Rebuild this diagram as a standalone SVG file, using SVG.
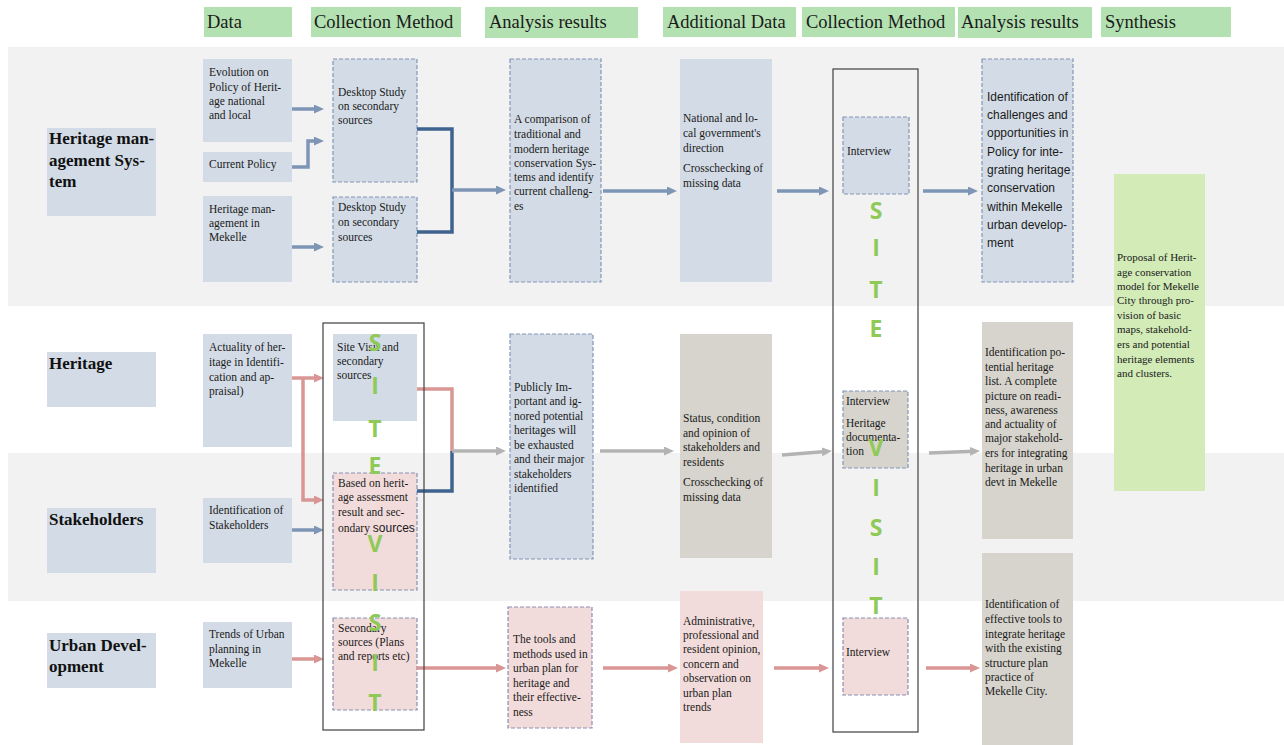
<svg xmlns="http://www.w3.org/2000/svg" width="1284" height="745" viewBox="0 0 1284 745">
<style>
.band{fill:#f2f2f2}
.hdr{fill:#b3e1b1}
.hdrt{font-family:"Liberation Serif",serif;font-size:18.5px;fill:#1a1a1a}
.lb{fill:#d3dce6}
.lbt{font-family:"Liberation Serif",serif;font-size:17px;font-weight:bold;fill:#111}
.bx{fill:#d3dce6}
.pk{fill:#f2dcdb}
.bg{fill:#d6d4cc}
.gr{fill:#d2ebb7}
.dsh{stroke:#8396b7;stroke-width:1.2;stroke-dasharray:4 2}
.dshp{stroke:#8a8db3;stroke-width:1.2;stroke-dasharray:4 2}
.t{font-family:"Liberation Serif",serif;font-size:11.5px;fill:#1a1a1a}
.s{font-family:"Liberation Sans",Arial,sans-serif;font-size:12px;fill:#1a1a1a}
.sv{font-family:"Open Sans","Liberation Sans",sans-serif;font-size:23px;font-weight:bold;fill:#8fca58;text-anchor:middle}
.frame{fill:none;stroke:#404040;stroke-width:1.2}
.ab{stroke:#7e95b6;stroke-width:3.5;fill:none}
.ad{stroke:#3f638f;stroke-width:3.5;fill:none}
.ap{stroke:#d99694;stroke-width:3.5;fill:none}
.ag{stroke:#b3b3b3;stroke-width:3.5;fill:none}
</style>
<defs>
<marker id="mb" markerUnits="userSpaceOnUse" markerWidth="11" markerHeight="10" refX="4" refY="4.5" orient="auto"><path d="M0,0 L10,4.5 L0,9 z" fill="#7e95b6"/></marker>
<marker id="mp" markerUnits="userSpaceOnUse" markerWidth="11" markerHeight="10" refX="4" refY="4.5" orient="auto"><path d="M0,0 L10,4.5 L0,9 z" fill="#d99694"/></marker>
<marker id="mg" markerUnits="userSpaceOnUse" markerWidth="11" markerHeight="10" refX="4" refY="4.5" orient="auto"><path d="M0,0 L10,4.5 L0,9 z" fill="#b3b3b3"/></marker>
</defs>
<rect width="1284" height="745" fill="#ffffff"/>
<rect class="band" x="8" y="47" width="1276" height="259"/>
<rect class="band" x="8" y="453" width="1276" height="148"/>

<g id="headers">
<rect class="hdr" x="204" y="7" width="88" height="30"/><text class="hdrt" x="207" y="28">Data</text>
<rect class="hdr" x="311" y="7" width="150" height="30"/><text class="hdrt" x="314" y="28">Collection Method</text>
<rect class="hdr" x="485" y="7" width="153" height="31"/><text class="hdrt" x="489" y="28">Analysis results</text>
<rect class="hdr" x="663" y="7" width="133" height="30"/><text class="hdrt" x="667" y="28">Additional Data</text>
<rect class="hdr" x="802" y="7" width="153" height="30"/><text class="hdrt" x="806" y="28">Collection Method</text>
<rect class="hdr" x="958" y="7" width="134" height="31"/><text class="hdrt" x="961" y="28">Analysis results</text>
<rect class="hdr" x="1101" y="7" width="130" height="30"/><text class="hdrt" x="1105" y="28">Synthesis</text>
</g>

<g id="label-hms"><rect class="lb" x="47" y="128" width="109" height="88"/>
<text class="lbt"><tspan x="49" y="144">Heritage man-</tspan><tspan x="49" y="166">agement Sys-</tspan><tspan x="49" y="187">tem</tspan></text></g>
<g id="label-heritage"><rect class="lb" x="47" y="352" width="109" height="55"/><text class="lbt" x="49" y="369">Heritage</text></g>
<g id="label-stakeholders"><rect class="lb" x="47" y="508" width="109" height="65"/><text class="lbt" x="49" y="525">Stakeholders</text></g>
<g id="label-urban"><rect class="lb" x="47" y="633" width="109" height="55"/>
<text class="lbt"><tspan x="49" y="651">Urban Devel-</tspan><tspan x="49" y="672">opment</tspan></text></g>

<g id="data-evolution"><rect class="bx" x="203" y="59" width="89" height="83"/>
<text class="t"><tspan x="209" y="76">Evolution on</tspan><tspan x="209" y="91">Policy of Herit-</tspan><tspan x="209" y="105">age  national</tspan><tspan x="209" y="119">and local</tspan></text></g>
<g id="data-current"><rect class="bx" x="203" y="152" width="89" height="30"/><text class="t" x="209" y="168">Current Policy</text></g>
<g id="data-hm-mekelle"><rect class="bx" x="203" y="196" width="89" height="86"/>
<text class="t"><tspan x="209" y="213">Heritage man-</tspan><tspan x="209" y="227">agement  in</tspan><tspan x="209" y="241">Mekelle</tspan></text></g>
<g id="data-actuality"><rect class="bx" x="203" y="334" width="89" height="113"/>
<text class="t"><tspan x="209" y="351">Actuality of her-</tspan><tspan x="209" y="366">itage in Identifi-</tspan><tspan x="209" y="381">cation and ap-</tspan><tspan x="209" y="395">praisal)</tspan></text></g>
<g id="data-stakeholders"><rect class="bx" x="203" y="498" width="89" height="65"/>
<text class="t"><tspan x="209" y="514">Identification of</tspan><tspan x="209" y="529">Stakeholders</tspan></text></g>
<g id="data-trends"><rect class="bx" x="203" y="622" width="89" height="66"/>
<text class="t"><tspan x="209" y="638">Trends of Urban</tspan><tspan x="209" y="653">planning in</tspan><tspan x="209" y="667">Mekelle</tspan></text></g>

<g id="cm-desktop1"><rect class="bx dsh" x="333" y="59" width="84" height="123"/>
<text class="t"><tspan x="338" y="96">Desktop Study</tspan><tspan x="338" y="110">on secondary</tspan><tspan x="338" y="124">sources</tspan></text></g>
<g id="cm-desktop2"><rect class="bx dsh" x="333" y="197" width="84" height="85"/>
<text class="t"><tspan x="338" y="211">Desktop Study</tspan><tspan x="338" y="226">on secondary</tspan><tspan x="338" y="241">sources</tspan></text></g>
<g id="cm-sitevisit"><rect class="bx" x="333" y="334" width="84" height="87"/>
<text class="t"><tspan x="337" y="351">Site Visit and</tspan><tspan x="337" y="365">secondary</tspan><tspan x="337" y="379">sources</tspan></text></g>
<g id="cm-based"><rect class="pk dshp" x="333" y="473" width="84" height="117"/>
<text class="t"><tspan x="338" y="487">Based on herit-</tspan><tspan x="338" y="501">age assessment</tspan><tspan x="338" y="516">result and sec-</tspan><tspan x="338" y="532">ondary <tspan class="s">sources</tspan></tspan></text></g>
<g id="cm-secondary"><rect class="pk dshp" x="333" y="618" width="84" height="92"/>
<text class="t"><tspan x="338" y="632">Secondary</tspan><tspan x="338" y="646">sources (Plans</tspan><tspan x="338" y="660">and reports etc)</tspan></text></g>

<g id="ar-comparison"><rect class="bx dsh" x="510" y="59" width="91" height="223"/>
<text class="t"><tspan x="514" y="123">A comparison of</tspan><tspan x="514" y="138">traditional and</tspan><tspan x="514" y="153">modern heritage</tspan><tspan x="514" y="167">conservation Sys-</tspan><tspan x="514" y="181">tems and identify</tspan><tspan x="514" y="195">current challeng-</tspan><tspan x="514" y="210">es</tspan></text></g>
<g id="ar-publicly"><rect class="bx dsh" x="510" y="334" width="83" height="225"/>
<text class="t"><tspan x="514" y="391">Publicly Im-</tspan><tspan x="514" y="405">portant and ig-</tspan><tspan x="514" y="420">nored potential</tspan><tspan x="514" y="434">heritages will</tspan><tspan x="514" y="449">be exhausted</tspan><tspan x="514" y="463">and their major</tspan><tspan x="514" y="478">stakeholders</tspan><tspan x="514" y="492">identified</tspan></text></g>
<g id="ar-tools"><rect class="pk dshp" x="508" y="607" width="84" height="121"/>
<text class="t"><tspan x="513" y="643">The tools and</tspan><tspan x="513" y="658">methods used in</tspan><tspan x="513" y="672">urban plan for</tspan><tspan x="513" y="687">heritage and</tspan><tspan x="513" y="701">their effective-</tspan><tspan x="513" y="716">ness</tspan></text></g>

<g id="ad-national"><rect class="bx" x="680" y="59" width="92" height="223"/>
<text class="t"><tspan x="683" y="122">National and  lo-</tspan><tspan x="683" y="137">cal government's</tspan><tspan x="683" y="152">direction</tspan><tspan x="683" y="172">Crosschecking of</tspan><tspan x="683" y="187">missing data</tspan></text></g>
<g id="ad-status"><rect class="bg" x="680" y="334" width="92" height="224"/>
<text class="t"><tspan x="683" y="422">Status, condition</tspan><tspan x="683" y="437">and opinion of</tspan><tspan x="683" y="451">stakeholders and</tspan><tspan x="683" y="466">residents</tspan><tspan x="683" y="486">Crosschecking of</tspan><tspan x="683" y="501">missing data</tspan></text></g>
<g id="ad-admin"><rect class="pk" x="680" y="591" width="83" height="152"/>
<text class="t"><tspan x="683" y="625">Administrative,</tspan><tspan x="683" y="639">professional and</tspan><tspan x="683" y="653">resident opinion,</tspan><tspan x="683" y="668">concern and</tspan><tspan x="683" y="682">observation on</tspan><tspan x="683" y="697">urban plan</tspan><tspan x="683" y="711">trends</tspan></text></g>

<g id="cm2-interview1"><rect class="bx dsh" x="843" y="117" width="66" height="77"/><text class="t" x="847" y="155">Interview</text></g>
<g id="cm2-interview2"><rect class="bg dsh" x="843" y="391" width="65" height="77"/>
<text class="t"><tspan x="846" y="405">Interview</tspan><tspan x="846" y="427">Heritage</tspan><tspan x="846" y="441">documenta-</tspan><tspan x="846" y="455">tion</tspan></text></g>
<g id="cm2-interview3"><rect class="pk dshp" x="843" y="618" width="65" height="77"/><text class="t" x="846" y="656">Interview</text></g>

<g id="ar2-challenges"><rect class="bx dsh" x="982" y="59" width="91" height="223"/>
<text class="s"><tspan x="987" y="101">Identification of</tspan><tspan x="987" y="119">challenges and</tspan><tspan x="987" y="137">opportunities in</tspan><tspan x="987" y="156">Policy  for inte-</tspan><tspan x="987" y="174">grating heritage</tspan><tspan x="987" y="192">conservation</tspan><tspan x="987" y="211">within Mekelle</tspan><tspan x="987" y="229">urban develop-</tspan><tspan x="987" y="247">ment</tspan></text></g>
<g id="ar2-potential"><rect class="bg" x="982" y="322" width="91" height="217"/>
<text class="t"><tspan x="985" y="356">Identification po-</tspan><tspan x="985" y="371">tential heritage</tspan><tspan x="985" y="385">list. A complete</tspan><tspan x="985" y="400">picture on readi-</tspan><tspan x="985" y="414">ness, awareness</tspan><tspan x="985" y="428">and actuality of</tspan><tspan x="985" y="442">major stakehold-</tspan><tspan x="985" y="457">ers for integrating</tspan><tspan x="985" y="472">heritage in urban</tspan><tspan x="985" y="486">devt in Mekelle</tspan></text></g>
<g id="ar2-tools"><rect class="bg" x="982" y="553" width="91" height="192"/>
<text class="t"><tspan x="985" y="608">Identification of</tspan><tspan x="985" y="623">effective tools to</tspan><tspan x="985" y="638">integrate heritage</tspan><tspan x="985" y="652">with the existing</tspan><tspan x="985" y="667">structure plan</tspan><tspan x="985" y="681">practice of</tspan><tspan x="985" y="695">Mekelle City.</tspan></text></g>

<g id="synthesis"><rect class="gr" x="1114" y="174" width="91" height="317"/>
<text class="t" style="font-size:11px"><tspan x="1117" y="261">Proposal of Herit-</tspan><tspan x="1117" y="276">age conservation</tspan><tspan x="1117" y="290">model for Mekelle</tspan><tspan x="1117" y="304">City through pro-</tspan><tspan x="1117" y="319">vision of basic</tspan><tspan x="1117" y="333">maps, stakehold-</tspan><tspan x="1117" y="348">ers and potential</tspan><tspan x="1117" y="363">heritage elements</tspan><tspan x="1117" y="377">and clusters.</tspan></text></g>

<g id="connectors">
<line class="ab" x1="292" y1="109" x2="318" y2="109" marker-end="url(#mb)"/>
<path class="ab" d="M292,167 H308 V141 H318" marker-end="url(#mb)"/>
<line class="ab" x1="292" y1="247" x2="318" y2="247" marker-end="url(#mb)"/>
<path class="ad" d="M417,129 H452 V232 H417"/>
<line class="ab" x1="452" y1="190" x2="500" y2="190" marker-end="url(#mb)"/>
<line class="ab" x1="603" y1="191" x2="671" y2="191" marker-end="url(#mb)"/>
<line class="ab" x1="777" y1="191" x2="823" y2="191" marker-end="url(#mb)"/>
<line class="ab" x1="923" y1="191" x2="972" y2="191" marker-end="url(#mb)"/>
<line class="ap" x1="292" y1="378" x2="318" y2="378" marker-end="url(#mp)"/>
<path class="ap" d="M303,378 V500 H318" marker-end="url(#mp)"/>
<line class="ab" x1="292" y1="530" x2="318" y2="530" marker-end="url(#mb)"/>
<path class="ap" d="M417,389 H452 V451"/>
<path class="ad" d="M417,491 H452 V451"/>
<line class="ag" x1="452" y1="451" x2="500" y2="451" marker-end="url(#mg)"/>
<line class="ag" x1="600" y1="451" x2="668" y2="451" marker-end="url(#mg)"/>
<line class="ag" x1="782" y1="455" x2="826" y2="451.5" marker-end="url(#mg)"/>
<line class="ag" x1="929" y1="453" x2="974" y2="451.2" marker-end="url(#mg)"/>
<line class="ap" x1="292" y1="659" x2="318" y2="659" marker-end="url(#mp)"/>
<line class="ap" x1="417" y1="668" x2="500" y2="668" marker-end="url(#mp)"/>
<line class="ap" x1="603" y1="668" x2="672" y2="668" marker-end="url(#mp)"/>
<line class="ap" x1="774" y1="668" x2="823" y2="668" marker-end="url(#mp)"/>
<line class="ap" x1="926" y1="668" x2="974" y2="668" marker-end="url(#mp)"/>
</g>

<g id="site-visit-left">
<rect class="frame" x="323" y="323" width="101" height="407"/>
<text class="sv"><tspan x="375" y="351">S</tspan><tspan x="375" y="394">I</tspan><tspan x="375" y="437">T</tspan><tspan x="375" y="474">E</tspan><tspan x="375" y="552">V</tspan><tspan x="375" y="591">I</tspan><tspan x="375" y="631">S</tspan><tspan x="375" y="671">I</tspan><tspan x="375" y="711">T</tspan></text>
</g>
<g id="site-visit-right">
<rect class="frame" x="833" y="69" width="85" height="663"/>
<text class="sv"><tspan x="876" y="219">S</tspan><tspan x="876" y="256">I</tspan><tspan x="876" y="298">T</tspan><tspan x="876" y="337">E</tspan><tspan x="876" y="456">V</tspan><tspan x="876" y="496">I</tspan><tspan x="876" y="536">S</tspan><tspan x="876" y="575">I</tspan><tspan x="876" y="614">T</tspan></text>
</g>
</svg>
